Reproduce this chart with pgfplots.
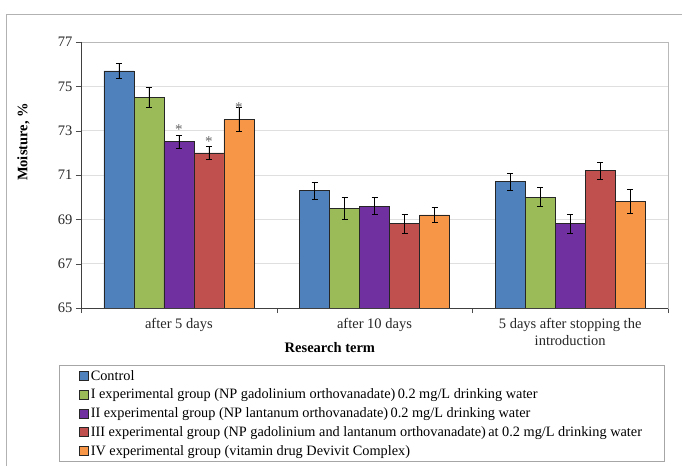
\documentclass[border=0pt]{standalone}
\usepackage{fontspec}
\setmainfont{Liberation Serif}
\usepackage{pgfplots}
\pgfplotsset{compat=1.18}
\definecolor{cblue}{HTML}{4F81BD}
\definecolor{cgreen}{HTML}{9BBB59}
\definecolor{cpurple}{HTML}{7030A0}
\definecolor{cred}{HTML}{C0504D}
\definecolor{corange}{HTML}{F79646}
\pgfplotsset{
  mylegend/.style={legend image code/.code={\draw[##1,draw=black!85,line width=0.6pt] (0pt,-4.5pt) rectangle (9pt,4.5pt);}},
  myerr/.style={error bars/.cd, y dir=both, y explicit,
    error bar style={black, line width=0.6pt},
    error mark options={rotate=90, mark size=3pt, black, line width=0.6pt}},
}
\begin{document}
\begin{tikzpicture}[x=1pt,y=1pt]
\useasboundingbox (0,0) rectangle (682,466);
\draw[gray!60, line width=0.9pt] (6,0) -- (6,452) -- (682,452);
\begin{axis}[
  at={(81pt,158pt)}, anchor=south west,
  scale only axis, width=587pt, height=266pt,
  xmin=-0.5, xmax=2.5, ymin=65, ymax=77,
  ytick={65,67,...,77},
  ybar=0pt, bar width=30pt,
  xtick={0,1,2},
  xticklabels={after 5 days, after 10 days, {5 days after stopping the\\introduction}},
  minor xtick={-0.5,0.5,1.5,2.5},
  major x tick style={draw=none},
  minor x tick style={black!70},
  minor tick length=5pt,
  major tick length=5pt,
  tick align=outside,
  xtick pos=bottom, ytick pos=left,
  ytick style={black!70},
  axis line style={gray!55},
  ymajorgrids, major grid style={gray!25, line width=0.8pt},
  /pgf/number format/assume math mode=true,
  tick label style={font=\fontsize{14.5}{16.5}\selectfont, black!85},
  xticklabel style={align=center, yshift=-2pt},
  xlabel={\textbf{Research term}},
  ylabel={\textbf{Moisture, \%}},
  xlabel style={at={(axis description cs:0.424,-0.150)}, anchor=center, font=\fontsize{14.5}{16.5}\selectfont},
  ylabel style={at={(axis description cs:-0.098,0.624)}, anchor=center, font=\fontsize{14.5}{16.5}\selectfont},
  legend style={at={(axis description cs:-0.0375,-0.2143)}, anchor=north west,
    draw=gray!70, inner xsep=20pt, inner ysep=3pt,
    font=\fontsize{14.3}{16}\selectfont, row sep=3.3pt},
  legend cell align=left,
]
\addplot[fill=cblue, draw=black!85, line width=0.6pt, mylegend, myerr]
  coordinates {(0,75.7) +- (0,0.35) (1,70.3) +- (0,0.38) (2,70.7) +- (0,0.38)};
\addplot[fill=cgreen, draw=black!85, line width=0.6pt, mylegend, myerr]
  coordinates {(0,74.5) +- (0,0.45) (1,69.5) +- (0,0.5) (2,70.0) +- (0,0.43)};
\addplot[fill=cpurple, draw=black!85, line width=0.6pt, mylegend, myerr]
  coordinates {(0,72.5) +- (0,0.3) (1,69.6) +- (0,0.38) (2,68.8) +- (0,0.43)};
\addplot[fill=cred, draw=black!85, line width=0.6pt, mylegend, myerr]
  coordinates {(0,72.0) +- (0,0.3) (1,68.8) +- (0,0.43) (2,71.2) +- (0,0.38)};
\addplot[fill=corange, draw=black!85, line width=0.6pt, mylegend, myerr]
  coordinates {(0,73.5) +- (0,0.55) (1,69.2) +- (0,0.35) (2,69.8) +- (0,0.55)};
\legend{Control,
  I experimental group (NP gadolinium orthovanadate)\,0.2 mg/L drinking water,
  II experimental group (NP lantanum orthovanadate)\,0.2 mg/L drinking water,
  III experimental group (NP gadolinium and lantanum orthovanadate)\,at 0.2 mg/L drinking water,
  IV experimental group (vitamin drug Devivit Complex)}
\draw[black!75, line width=0.8pt] (rel axis cs:0,1) -- (rel axis cs:0,0) -- (rel axis cs:1,0);
\node[black!60, font=\fontsize{15}{16}\selectfont] at (axis cs:0,73.05) {*};
\node[black!60, font=\fontsize{15}{16}\selectfont, xshift=30pt] at (axis cs:0,72.5) {*};
\node[black!60, font=\fontsize{15}{16}\selectfont, xshift=60pt] at (axis cs:0,74.05) {*};
\end{axis}
\end{tikzpicture}
\end{document}
